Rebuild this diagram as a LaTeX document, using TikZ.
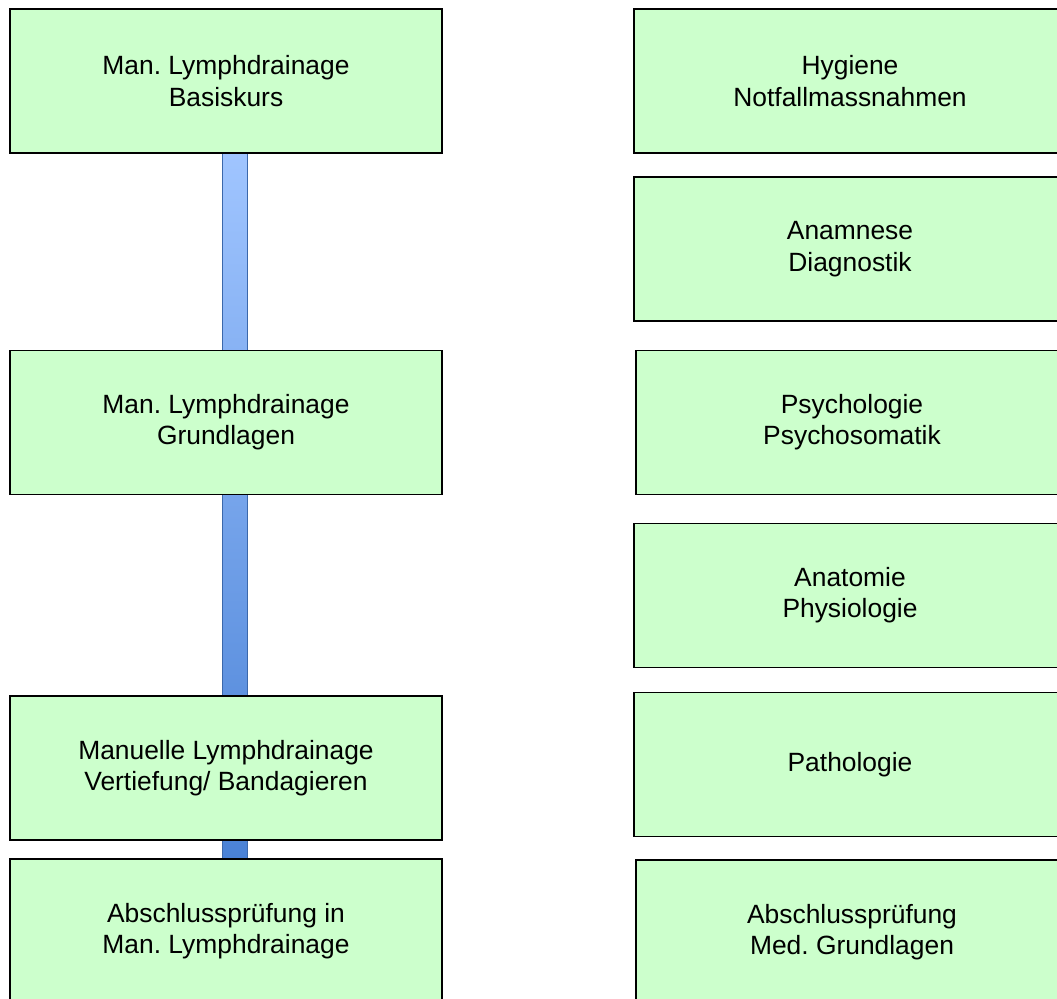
\documentclass[tikz,border=0pt]{standalone}
\usepackage{fontspec}
\setmainfont{Liberation Sans}
\frenchspacing
\usepackage{tikz}
\usetikzlibrary{positioning,backgrounds}
\definecolor{boxGreen}{RGB}{204,255,204}
\definecolor{barTop}{RGB}{160,197,255}
\definecolor{barBottom}{RGB}{74,130,214}
\colorlet{barEdge}{barBottom!80!black}

\begin{document}
\begin{tikzpicture}[x=0.75pt, y=-0.75pt,
    every node/.style={font=\fontsize{19.8}{23.5}\selectfont},
    box/.style={draw, line width=1.4pt, fill=boxGreen, minimum width=324pt, minimum height=108pt, inner sep=0pt, outer sep=0pt, align=center}]
                \useasboundingbox (0,0) rectangle (1057,999);
                \clip (0,0) rectangle (1057,999);
                % left column
                \node[box] (basis) at (226,81) {Man. Lymphdrainage\\Basiskurs};
                \node[box] (grund) at (226,422.5) {Man. Lymphdrainage\\Grundlagen};
                \node[box] (vertief) at (226,768) {Manuelle Lymphdrainage\\Vertiefung/ Bandagieren};
                \node[box] (pruefL) at (226,931) {Abschlussprüfung in\\Man. Lymphdrainage};
                % right column
                \node[box] (hyg) at (850,81) {Hygiene\\Notfallmassnahmen};
                \node[box] (anam) at (850,249) {Anamnese\\Diagnostik};
                \node[box] (psych) at (852,422.5) {Psychologie\\Psychosomatik};
                \node[box] (anat) at (850,595.5) {Anatomie\\Physiologie};
                \node[box] (patho) at (850,764.5) {Pathologie};
                \node[box] (pruefR) at (852,932) {Abschlussprüfung\\Med. Grundlagen};
                % connecting bar
                \coordinate (barL) at (222.5,0);
                \coordinate (barR) at (247.5,0);
                \begin{scope}[on background layer]
                \draw[barEdge, line width=0.8pt, top color=barTop, bottom color=barBottom] (barL |- basis.south) rectangle (barR |- pruefL.north);
                \end{scope}
            \end{tikzpicture}
\end{document}
